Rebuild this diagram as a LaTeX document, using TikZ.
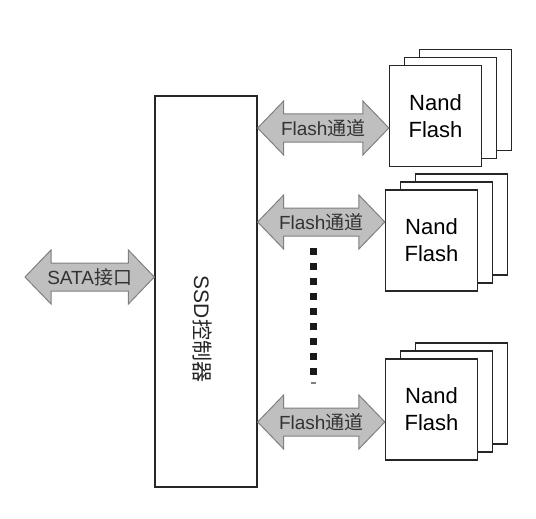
\documentclass[tikz,border=0pt]{standalone}
\usepackage{fontspec}
\setmainfont{Liberation Sans}
\newfontfamily\cjk{Noto Sans CJK SC}
\usetikzlibrary{calc}

\tikzset{
  box/.style={draw=black!85, line width=1.3pt, fill=white, inner sep=0pt},
  chip/.style={box, minimum width=92pt, minimum height=101pt, align=center,
    font=\fontsize{22}{27}\selectfont},
  arrowbody/.style={draw=black!50, line width=1pt, fill=black!25},
  arrowtext/.style={font=\fontsize{19}{22}\selectfont, text=black!80, inner sep=0pt}
}

% double arrow between two points: left tip, right tip, label
\newcommand{\dblarrow}[4]{%
  \draw[arrowbody] (#1) -- ++(26,-27) -- ++(0,13) -- ($(#2)+(-26,-14)$)
    -- ++(0,-13) -- (#2) -- ++(-26,27) -- ++(0,-13) -- ($(#1)+(26,14)$)
    -- ++(0,13) -- cycle;
  \node[arrowtext] (#4) at ($(#1)!0.5!(#2)$) {#3};
}

\begin{document}
\begin{tikzpicture}[x=1pt,y=-1pt]
    \useasboundingbox (0,0) rectangle (536,519);

    % Controller
    \node[box, minimum width=102pt, minimum height=391pt] (ctrl) at (206,291.5) {};
    \node[rotate=-90, font=\fontsize{21}{24}\selectfont, text=black!85] (ctrllabel) at (202,329) {SSD{\cjk 控制器}};

    % Nand stacks (back, middle, front)
    \foreach \n/\x/\y in {1/435.5/116, 2/431.5/240.5, 3/431.5/409.5} {
        \node[chip] (nand\n c) at (\x+30,\y-16) {};
        \node[chip] (nand\n b) at (\x+15,\y-8) {};
        \node[chip] (nand\n) at (\x,\y) {Nand\\Flash};
    }

    % Channels
    \coordinate (c1) at (ctrl.east |- 0,128);
    \coordinate (n1) at (nand1.west |- 0,128);
    \coordinate (c2) at (ctrl.east |- 0,222);
    \coordinate (n2) at (nand2.west |- 0,222);
    \coordinate (c3) at (ctrl.east |- 0,422);
    \coordinate (n3) at (nand3.west |- 0,422);
    \dblarrow{c1}{n1}{Flash{\cjk 通道}}{ch1}
    \dblarrow{c2}{n2}{Flash{\cjk 通道}}{ch2}
    \dblarrow{c3}{n3}{Flash{\cjk 通道}}{ch3}

    % SATA interface
    \coordinate (host) at (25,277);
    \coordinate (s1) at (ctrl.west |- 0,277);
    \dblarrow{host}{s1}{SATA{\cjk 接口}}{sata}

    % dots between channels
    \foreach \y in {251,266,...,371}
        \fill[black!90] (309.5,\y-3.5) rectangle +(7,7);
    \fill[black!50] (310.5,382) rectangle +(5,2);
\end{tikzpicture}
\end{document}
